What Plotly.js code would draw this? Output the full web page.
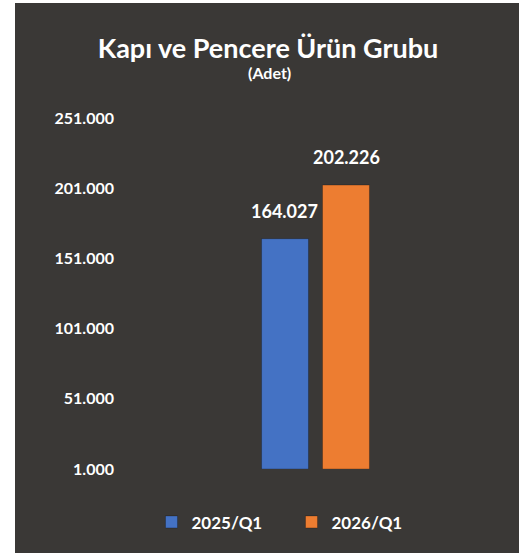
<!DOCTYPE html>
<html>
<head>
<meta charset="utf-8">
<script src="https://cdn.plot.ly/plotly-3.0.1.min.js"></script>
<style>
html,body{margin:0;padding:0;background:#ffffff;}
#chart{position:absolute;left:15px;top:3px;width:504px;height:550px;}
</style>
</head>
<body>
<div id="chart"></div>
<script>
const categories = ["Kapı ve Pencere"];
const seriesNames = ["2025/Q1", "2026/Q1"];
const values2025 = [164027];
const values2026 = [202226];
const seriesColors = ["#4472C4", "#ED7D31"];
const tickValues = [1000, 51000, 101000, 151000, 201000, 251000];
const tickLabels = ["1.000", "51.000", "101.000", "151.000", "201.000", "251.000"];

const fontFam = "Lato, 'Open Sans', sans-serif";
const seriesValues = [values2025, values2026];

const traces = seriesNames.map((name, i) => ({
  type: "bar",
  name: name,
  x: categories,
  y: seriesValues[i],
  base: 1000,
  marker: {color: seriesColors[i], line: {color: "rgba(0,0,0,0.25)", width: 1}},
  hoverinfo: "skip"
}));

const annotations = [];
seriesNames.forEach((name, i) => {
  seriesValues[i].forEach((v, j) => {
    annotations.push({
      x: categories[j], y: v + 1000, xref: "x", yref: "y",
      text: "<b>" + v.toLocaleString("de-DE") + "</b>",
      showarrow: false, yanchor: "bottom",
      xshift: i === 0 ? -31 : 31, yshift: 15,
      font: {family: fontFam, size: 18, color: "#ffffff"}
    });
  });
});
annotations.push({
  text: "<b>(Adet)</b>", xref: "paper", yref: "paper",
  x: 0.38, y: 1.0, yanchor: "middle", yshift: 46, showarrow: false,
  font: {family: fontFam, size: 16, color: "#ffffff"}
});

const layout = {
  width: 504, height: 550,
  paper_bgcolor: "#3A3836", plot_bgcolor: "#3A3836",
  margin: {l: 110, r: 13, t: 115, b: 84},
  title: {
    text: "<b>Kapı ve Pencere Ürün Grubu</b>",
    font: {family: fontFam, size: 27, color: "#ffffff"},
    x: 0.502, xanchor: "center", y: 0.918, yanchor: "middle", yref: "container"
  },
  barmode: "group",
  bargap: 0.68, bargroupgap: 0.23,
  showlegend: true,
  legend: {
    orientation: "h", x: 0.437, xanchor: "center", y: -0.152, yanchor: "middle",
    font: {family: fontFam, size: 17, color: "#ffffff", weight: "bold"},
    itemclick: false, traceorder: "normal", entrywidth: 95, entrywidthmode: "pixels"
  },
  xaxis: {showticklabels: false, showgrid: false, zeroline: false, showline: false, fixedrange: true},
  yaxis: {
    range: [1000, 251000], tickvals: tickValues, ticktext: tickLabels,
    showgrid: false, zeroline: false, showline: false, ticks: "",
    tickfont: {family: fontFam, size: 16, color: "#ffffff", weight: "bold"},
    ticklabelstandoff: 10, fixedrange: true
  },
  annotations: annotations
};

Plotly.newPlot("chart", traces, layout, {displayModeBar: false, staticPlot: true});
</script>
</body>
</html>
